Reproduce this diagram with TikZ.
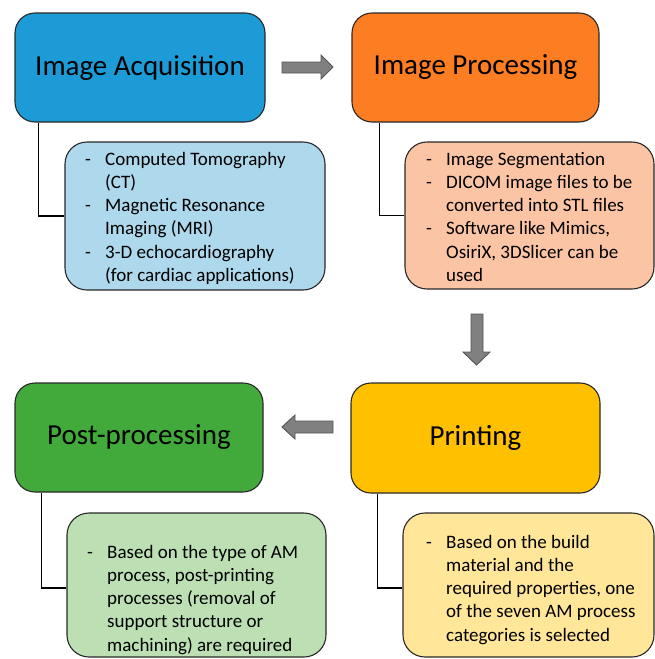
\documentclass[tikz,border=0pt]{standalone}
\usepackage{fontspec}
\setmainfont{Carlito}
\definecolor{outl}{RGB}{40,40,40}
\definecolor{blueA}{RGB}{29,155,214}
\definecolor{blueB}{RGB}{174,216,236}
\definecolor{orangeA}{RGB}{253,126,34}
\definecolor{orangeB}{RGB}{251,197,165}
\definecolor{greenA}{RGB}{66,170,58}
\definecolor{greenB}{RGB}{188,223,180}
\definecolor{yellowA}{RGB}{255,192,0}
\definecolor{yellowB}{RGB}{255,230,153}
\definecolor{arrfill}{RGB}{128,128,128}
\definecolor{arrline}{RGB}{85,85,85}
\newcommand{\titlefont}{\fontsize{29}{35}\selectfont}
\newcommand{\subfont}{\fontsize{19}{23.3}\selectfont}
\begin{document}
\begin{tikzpicture}[x=1pt,y=-1pt,
  mainbox/.style={draw=outl, line width=1.1pt, rounded corners=20pt, inner sep=0pt, font=\titlefont, text=black},
  subbox/.style={draw=outl, line width=1.1pt, rounded corners=22pt, inner sep=0pt},
  subtext/.style={anchor=base west, inner sep=0pt, font=\subfont, text=black},
  link/.style={draw=black, line width=1.4pt},
  blockarrow/.style={fill=arrfill, draw=arrline, line width=0.9pt, line join=miter}]
\useasboundingbox (0,0) rectangle (655,659);

% main boxes
\node[mainbox, fill=blueA, minimum width=250pt, minimum height=109pt] (acq) at (140,67.5) {Image Acquisition};
\node[mainbox, fill=orangeA, minimum width=247pt, minimum height=109pt] (proc) at (475.5,67.5) {Image Processing};
\node[mainbox, fill=yellowA, minimum width=249pt, minimum height=110pt] (print) at (475.5,438) {Printing};
\node[mainbox, fill=greenA, minimum width=248pt, minimum height=109pt] (post) at (139,437.5) {Post-processing};

% sub boxes
\node[subbox, fill=blueB, minimum width=260pt, minimum height=148pt] (acqsub) at (195,216) {};
\node[subbox, fill=orangeB, minimum width=249pt, minimum height=147pt] (procsub) at (529.5,215.5) {};
\node[subbox, fill=greenB, minimum width=259pt, minimum height=144pt] (postsub) at (196.5,585) {};
\node[subbox, fill=yellowB, minimum width=251pt, minimum height=144pt] (printsub) at (528.5,585) {};

% sub texts
\node[subtext] (acqtext) at (85,165) {\begin{tabular}[t]{@{}p{20pt}@{}l@{}}
- & Computed Tomography\\
  & (CT)\\
- & Magnetic Resonance\\
  & Imaging (MRI)\\
- & 3-D echocardiography\\
  & (for cardiac applications)
\end{tabular}};
\node[subtext] (proctext) at (426,165) {\begin{tabular}[t]{@{}p{20pt}@{}l@{}}
- & Image Segmentation\\
- & DICOM image files to be\\
  & converted into STL files\\
- & Software like Mimics,\\
  & OsiriX, 3DSlicer can be\\
  & used
\end{tabular}};
\node[subtext] (posttext) at (87,558) {\begin{tabular}[t]{@{}p{20pt}@{}l@{}}
- & Based on the type of AM\\
  & process, post-printing\\
  & processes (removal of\\
  & support structure or\\
  & machining) are required
\end{tabular}};
\node[subtext] (printtext) at (426,548) {\begin{tabular}[t]{@{}p{20pt}@{}l@{}}
- & Based on the build\\
  & material and the\\
  & required properties, one\\
  & of the seven AM process\\
  & categories is selected
\end{tabular}};

% connectors
\draw[link] ([xshift=24pt]acq.south west) |- (acqsub.west);
\draw[link] ([xshift=28pt]proc.south west) |- (procsub.west);
\draw[link] ([xshift=27pt]post.south west) |- ([yshift=-3pt]postsub.west);
\draw[link] ([xshift=27pt]print.south west) |- ([yshift=-3pt]printsub.west);

% block arrows
\draw[blockarrow] (282,62) -- (321,62) -- (321,55) -- (333,67) -- (321,79) -- (321,73) -- (282,73) -- cycle;
\draw[blockarrow] (471,314) -- (483,314) -- (483,352) -- (490,352) -- (476.5,365) -- (463,352) -- (471,352) -- cycle;
\draw[blockarrow] (333,421) -- (295,421) -- (295,415) -- (282,427) -- (295,439) -- (295,433) -- (333,433) -- cycle;
\end{tikzpicture}
\end{document}
